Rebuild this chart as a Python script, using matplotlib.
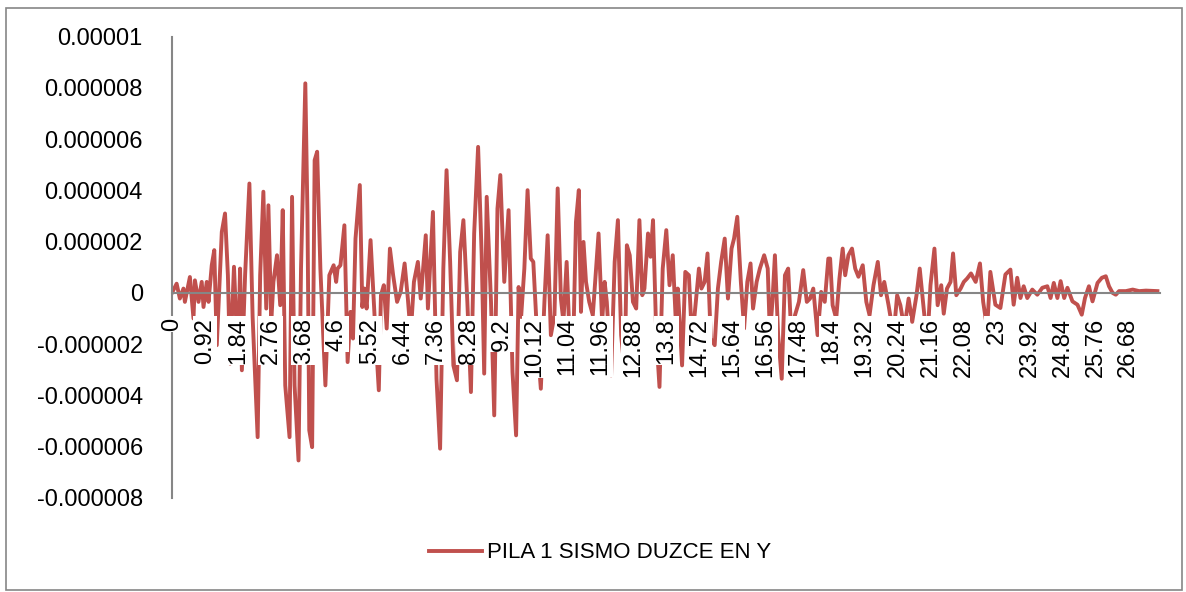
import matplotlib.pyplot as plt
from matplotlib.patches import Rectangle

# extremos (tiempo en s, desplazamiento en 1e-6)
t = [0, 0.13, 0.22, 0.32, 0.36, 0.50, 0.60, 0.64, 0.74, 0.83, 0.88, 0.97, 1.02, 1.11, 1.18, 1.25,
     1.39, 1.48, 1.56, 1.62, 1.73, 1.84, 1.90, 1.95, 2.04, 2.16, 2.25, 2.39, 2.46, 2.55, 2.63, 2.69,
     2.77, 2.83, 2.93, 3.02, 3.09, 3.16, 3.28, 3.35, 3.42, 3.53, 3.60, 3.72, 3.78, 3.83, 3.91, 3.98,
     4.05, 4.14, 4.28, 4.39, 4.47, 4.51, 4.58, 4.62, 4.70, 4.81, 4.90, 4.98, 5.05, 5.12, 5.24, 5.31,
     5.37, 5.43, 5.54, 5.68, 5.77, 5.83, 5.91, 5.99, 6.08, 6.17, 6.28, 6.38, 6.49, 6.58, 6.66, 6.75,
     6.86, 6.94, 7.08, 7.14, 7.28, 7.38, 7.48, 7.57, 7.66, 7.76, 7.85, 7.95, 8.04, 8.13, 8.24, 8.34,
     8.43, 8.54, 8.64, 8.71, 8.78, 8.90, 8.99, 9.08, 9.16, 9.27, 9.39, 9.50, 9.60, 9.67, 9.74, 9.83,
     9.92, 10.01, 10.08, 10.20, 10.29, 10.39, 10.48, 10.57, 10.67, 10.76, 10.85, 10.92, 11.01, 11.10,
     11.18, 11.27, 11.35, 11.41, 11.48, 11.55, 11.64, 11.74, 11.83, 11.90, 12.00, 12.07, 12.13, 12.25,
     12.35, 12.44, 12.53, 12.63, 12.69, 12.77, 12.86, 12.95, 13.04, 13.12, 13.18, 13.28, 13.35, 13.42,
     13.51, 13.60, 13.69, 13.79, 13.88, 13.97, 14.06, 14.11, 14.23, 14.32, 14.42, 14.51, 14.58, 14.70,
     14.77, 14.86, 14.94, 15.03, 15.14, 15.23, 15.32, 15.42, 15.51, 15.61, 15.68, 15.77, 15.87, 15.96,
     16.05, 16.14, 16.21, 16.31, 16.40, 16.52, 16.62, 16.68, 16.75, 16.82, 16.91, 17.01, 17.10, 17.19,
     17.29, 17.38, 17.49, 17.61, 17.71, 17.80, 17.89, 18.01, 18.11, 18.21, 18.31, 18.36, 18.43, 18.53,
     18.62, 18.71, 18.78, 18.87, 18.97, 19.06, 19.15, 19.27, 19.37, 19.46, 19.57, 19.69, 19.78, 19.87,
     19.99, 20.13, 20.23, 20.32, 20.43, 20.55, 20.65, 20.77, 20.86, 20.97, 21.07, 21.16, 21.27, 21.36,
     21.46, 21.53, 21.62, 21.72, 21.79, 21.88, 22.00, 22.09, 22.18, 22.29, 22.42, 22.54, 22.63, 22.74,
     22.83, 22.97, 23.11, 23.25, 23.39, 23.48, 23.58, 23.67, 23.76, 23.86, 24.00, 24.14, 24.28, 24.42,
     24.51, 24.60, 24.70, 24.79, 24.89, 24.98, 25.12, 25.26, 25.38, 25.47, 25.58, 25.68, 25.82, 25.94,
     26.05, 26.14, 26.24, 26.33, 26.42, 26.61, 26.80, 26.98, 27.17, 27.49]
y = [0, 0.36, -0.22, 0.17, -0.35, 0.62, -1.0, 0.49, -0.35, 0.43, -0.55, 0.43, -0.35, 1.08, 1.67, -2.04,
     2.38, 3.10, 0.69, -2.76, 1.02, -2.70, 0.95, -3.02, 0.69, 4.27, -0.94, -5.63, 0.69, 3.95, -0.61, 3.42,
     -1.13, 0.43, 1.47, -0.48, 3.23, -3.61, -5.63, 3.75, -3.61, -6.54, 0.95, 8.18, 3.03, -5.36, -6.02, 5.18,
     5.51, 0.95, -3.61, 0.69, 0.95, 1.08, 0.43, 0.95, 1.08, 2.64, -2.70, -0.74, -1.78, 2.12, 4.21, -0.55,
     0.17, -0.61, 2.06, -1.65, -3.80, -0.09, 0.30, -1.39, 1.73, 0.69, -0.35, 0.04, 1.15, -0.22, -1.65, 0.43,
     1.21, -0.22, 2.25, -0.61, 3.16, -3.35, -6.08, 0.95, 4.79, 1.21, -2.83, -3.41, 1.60, 2.84, -0.35, -3.87,
     2.32, 5.70, 1.47, -3.15, 3.75, -0.35, -4.78, 3.29, 4.60, 0.43, 3.23, -3.09, -5.56, 0.23, -0.94, 0.95,
     4.01, 1.34, 1.21, -2.04, -3.74, -0.35, 2.25, -1.65, -0.87, 4.08, -0.22, -1.13, 1.21, -2.04,
     -2.96, 2.77, 4.01, -0.74, 1.99, 0.43, -0.35, -0.87, 0.95, 2.32, -1.13, 0.43, -0.35, -3.22,
     1.21, 2.84, -1.65, -3.09, 1.86, 1.47, -0.35, -0.61, 2.84, -0.09, 0.17, 2.32, 1.41, 2.84,
     -1.65, -3.67, 0.95, 2.45, 0.30, 1.47, -1.26, 0.17, -2.83, 0.82, 0.69, -1.91, -0.87, 0.95,
     0.17, 0.43, 1.54, -1.78, -2.04, 0.17, 1.21, 2.12, -0.22, 1.73, 2.12, 2.97, 0.43, -1.39,
     0.43, 1.15, -0.61, 0.43, 0.95, 1.47, 0.95, -1.65, -0.35, 1.47, -1.65, -3.35, 0.69, 0.95,
     -2.04, -0.87, -0.35, 0.89, -0.35, -0.22, 0.17, -1.65, 0.04, -0.35, 1.34, 1.34, -0.48, -1.0,
     0.56, 1.73, 0.69, 1.47, 1.73, 0.95, 0.63, 1.08, -0.35, -0.87, 0.30, 1.21, -0.09, 0.43,
     -0.48, -1.65, -0.09, -0.48, -1.39, -0.22, -1.13, -0.09, 0.95, -0.61, -1.98, 0.30, 1.73, -0.48,
     0.30, -0.81, 0.17, 0.43, 1.54, -0.09, 0.17, 0.43, 0.56, 0.76, 0.43, 1.15, -0.35, -1.39,
     0.82, -0.46, -0.59, 0.72, 0.91, -0.46, 0.59, -0.20, 0.26, -0.20, 0.13, -0.07, 0.20, 0.26,
     -0.20, 0.39, -0.20, 0.46, -0.20, 0.20, -0.33, -0.46, -0.85, -0.20, 0.26, -0.33, 0.39, 0.59,
     0.65, 0.26, 0, -0.07, 0.07, 0.07, 0.13, 0.07, 0.09, 0.07]

ytick_vals = [10, 8, 6, 4, 2, 0, -2, -4, -6, -8]
ytick_labels = ['0.00001', '0.000008', '0.000006', '0.000004', '0.000002', '0',
                '-0.000002', '-0.000004', '-0.000006', '-0.000008']
xtick_vals = [round(k * 0.92, 2) for k in range(30)]
xtick_labels = ['%g' % v for v in xtick_vals]

plt.rcParams['font.family'] = ['Liberation Sans', 'DejaVu Sans']
gris = '#868686'

fig = plt.figure(figsize=(11.86, 5.92), dpi=100)
ax = fig.add_axes([0.145, 0.159, 0.833, 0.779])
ax.plot(t, [v * 1e-6 for v in y], color='#C0504D', lw=2.8, label='PILA 1 SISMO DUZCE EN Y')

# ejes tipo excel: eje x en cero, etiquetas encima de la curva
ax.set_axisbelow(False)
ax.spines['top'].set_visible(False)
ax.spines['right'].set_visible(False)
ax.spines['bottom'].set_position(('data', 0))
ax.spines['bottom'].set_color(gris)
ax.spines['left'].set_color(gris)
ax.spines['bottom'].set_linewidth(1.5)
ax.spines['left'].set_linewidth(1.5)

ax.set_xlim(0, 27.56)
ax.set_ylim(-8e-6, 1e-5)
ax.set_yticks([v * 1e-6 for v in ytick_vals])
ax.set_yticklabels(ytick_labels, fontsize=17)
ax.set_xticks(xtick_vals)
ax.set_xticklabels(xtick_labels, rotation=90, fontsize=17)
ax.tick_params(length=0)
ax.tick_params(axis='y', pad=21)
ax.tick_params(axis='x', pad=18)
for lbl in ax.get_xticklabels():
    lbl.set_bbox(dict(facecolor='white', edgecolor='none', pad=1))

fig.legend(loc='center', bbox_to_anchor=(0.506, 0.066), frameon=False, fontsize=16,
           handlelength=2.4, handletextpad=0.2)
fig.patches.append(Rectangle((0.005, 0.003), 0.992, 0.984, transform=fig.transFigure,
                             fill=False, edgecolor=gris, lw=1.2))

plt.savefig('out.png', dpi=100)
